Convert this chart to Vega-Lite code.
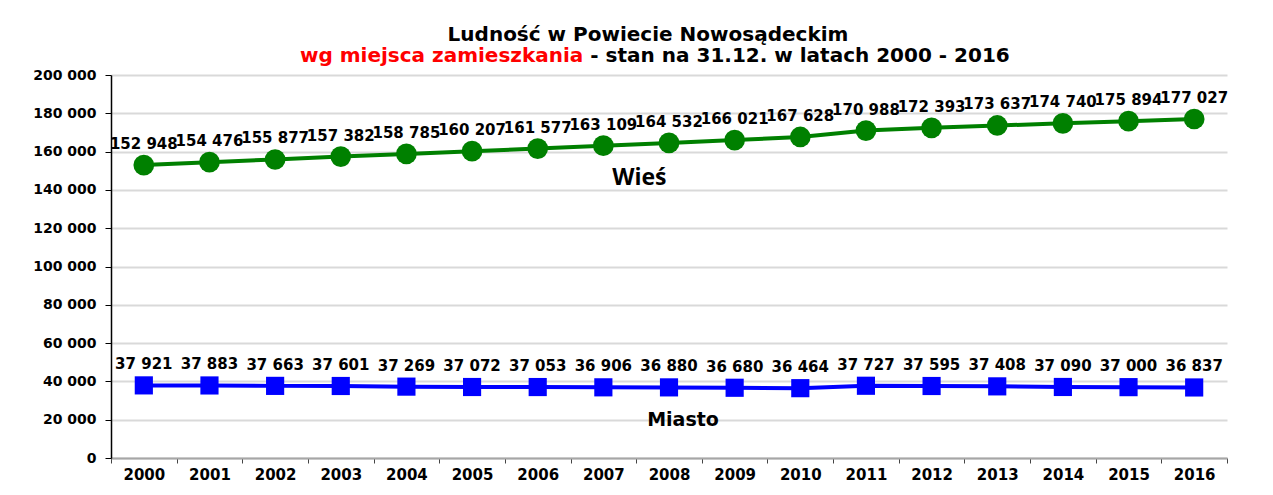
{
  "$schema": "https://vega.github.io/schema/vega-lite/v6.json",
  "width": 1116,
  "height": 383,
  "autosize": {"type": "none"},
  "padding": {"left": 111, "top": 75, "right": 46, "bottom": 37},
  "background": "white",
  "config": {
    "locale": {"number": {"decimal": ",", "thousands": " ", "grouping": [3], "currency": ["", " zł"]}},
    "view": {"stroke": null},
    "font": "DejaVu Sans"
  },
  "title": {
    "text": "Ludność w Powiecie Nowosądeckim",
    "anchor": "middle",
    "frame": "group",
    "dx": -21,
    "offset": 1,
    "font": "DejaVu Sans",
    "fontSize": 20,
    "fontWeight": "bold",
    "color": "#000000"
  },
  "datasets": {
    "pop": [
      {"year": "2000", "series": "Wieś", "value": 152948},
      {"year": "2001", "series": "Wieś", "value": 154476},
      {"year": "2002", "series": "Wieś", "value": 155877},
      {"year": "2003", "series": "Wieś", "value": 157382},
      {"year": "2004", "series": "Wieś", "value": 158785},
      {"year": "2005", "series": "Wieś", "value": 160207},
      {"year": "2006", "series": "Wieś", "value": 161577},
      {"year": "2007", "series": "Wieś", "value": 163109},
      {"year": "2008", "series": "Wieś", "value": 164532},
      {"year": "2009", "series": "Wieś", "value": 166021},
      {"year": "2010", "series": "Wieś", "value": 167628},
      {"year": "2011", "series": "Wieś", "value": 170988},
      {"year": "2012", "series": "Wieś", "value": 172393},
      {"year": "2013", "series": "Wieś", "value": 173637},
      {"year": "2014", "series": "Wieś", "value": 174740},
      {"year": "2015", "series": "Wieś", "value": 175894},
      {"year": "2016", "series": "Wieś", "value": 177027},
      {"year": "2000", "series": "Miasto", "value": 37921},
      {"year": "2001", "series": "Miasto", "value": 37883},
      {"year": "2002", "series": "Miasto", "value": 37663},
      {"year": "2003", "series": "Miasto", "value": 37601},
      {"year": "2004", "series": "Miasto", "value": 37269},
      {"year": "2005", "series": "Miasto", "value": 37072},
      {"year": "2006", "series": "Miasto", "value": 37053},
      {"year": "2007", "series": "Miasto", "value": 36906},
      {"year": "2008", "series": "Miasto", "value": 36880},
      {"year": "2009", "series": "Miasto", "value": 36680},
      {"year": "2010", "series": "Miasto", "value": 36464},
      {"year": "2011", "series": "Miasto", "value": 37727},
      {"year": "2012", "series": "Miasto", "value": 37595},
      {"year": "2013", "series": "Miasto", "value": 37408},
      {"year": "2014", "series": "Miasto", "value": 37090},
      {"year": "2015", "series": "Miasto", "value": 37000},
      {"year": "2016", "series": "Miasto", "value": 36837}
    ]
  },
  "encoding": {
    "x": {
      "field": "year", "type": "ordinal",
      "scale": {"type": "band", "paddingInner": 0, "paddingOuter": 0},
      "axis": {
        "title": null, "labelAngle": 0, "grid": false,
        "labelFont": "DejaVu Sans", "labelFontWeight": "bold", "labelFontSize": 15, "labelColor": "#000000",
        "tickBand": "extent", "domainColor": "#a6a6a6", "domainWidth": 2,
        "tickColor": "#444444", "tickSize": 5, "tickWidth": 1, "labelPadding": 4
      }
    },
    "y": {
      "field": "value", "type": "quantitative",
      "scale": {"domain": [0, 200000], "nice": false},
      "axis": {
        "title": null,
        "values": [0, 20000, 40000, 60000, 80000, 100000, 120000, 140000, 160000, 180000, 200000],
        "tickCount": 30,
        "format": ",d",
        "labelOverlap": false,
        "labelFont": "DejaVu Sans", "labelFontWeight": "bold", "labelFontSize": 14, "labelColor": "#000000",
        "gridColor": "#d9d9d9", "gridWidth": 2,
        "domainColor": "#000000", "domainWidth": 1.5,
        "tickColor": "#000000", "tickSize": 6, "labelPadding": 9
      }
    }
  },
  "layer": [
    {
      "data": {"name": "pop"},
      "mark": {"type": "line", "strokeWidth": 4},
      "encoding": {
        "color": {"field": "series", "type": "nominal", "scale": {"domain": ["Wieś", "Miasto"], "range": ["#008000", "#0000ff"]}, "legend": null},
        "detail": {"field": "series"}
      }
    },
    {
      "data": {"name": "pop"},
      "mark": {"type": "point", "filled": true, "opacity": 1},
      "encoding": {
        "color": {"field": "series", "type": "nominal", "legend": null},
        "shape": {"field": "series", "type": "nominal", "scale": {"domain": ["Wieś", "Miasto"], "range": ["circle", "square"]}, "legend": null},
        "size": {"field": "series", "type": "ordinal", "scale": {"domain": ["Wieś", "Miasto"], "range": [430, 330]}, "legend": null}
      }
    },
    {
      "data": {"name": "pop"},
      "mark": {"type": "text", "font": "DejaVu Sans", "fontWeight": "bold", "fontSize": 15, "color": "#000000", "baseline": "middle", "dy": -21},
      "encoding": {
        "text": {"field": "value", "type": "quantitative", "format": ",d"}
      }
    },
    {
      "data": {"values": [{"year": "2007", "value": 142560, "label": "Wieś"}]},
      "mark": {"type": "text", "font": "Open Sans", "fontWeight": "bold", "fontSize": 23, "color": "#000000", "baseline": "alphabetic", "align": "center", "dx": 36},
      "encoding": {
        "text": {"field": "label"}
      }
    },
    {
      "data": {"values": [{"year": "2008", "value": 16870, "label": "Miasto"}]},
      "mark": {"type": "text", "font": "DejaVu Sans", "fontWeight": "bold", "fontSize": 19, "color": "#000000", "baseline": "alphabetic", "align": "center", "dx": 14},
      "encoding": {
        "text": {"field": "label"}
      }
    },
    {
      "data": {"values": [{"year": "2007", "value": 206800, "label": "wg miejsca zamieszkania"}]},
      "mark": {"type": "text", "font": "DejaVu Sans", "fontWeight": "bold", "fontSize": 20, "color": "#ff0000", "baseline": "alphabetic", "align": "right", "dx": -20},
      "encoding": {
        "text": {"field": "label"}
      }
    },
    {
      "data": {"values": [{"year": "2007", "value": 206800, "label": "- stan na 31.12. w latach 2000 - 2016"}]},
      "mark": {"type": "text", "font": "DejaVu Sans", "fontWeight": "bold", "fontSize": 20, "color": "#000000", "baseline": "alphabetic", "align": "left", "dx": -13},
      "encoding": {
        "text": {"field": "label"}
      }
    }
  ]
}
